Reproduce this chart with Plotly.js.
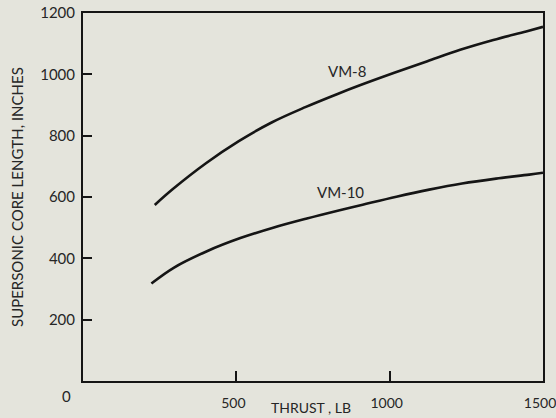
<!DOCTYPE html>
<html>
<head>
<meta charset="utf-8">
<script src="https://cdn.plot.ly/plotly-3.0.1.min.js"></script>
<style>
  html, body { margin: 0; padding: 0; background: #e4e4dc; }
  #chart { width: 556px; height: 418px; }
</style>
</head>
<body>
<div id="chart"></div>
<script>
// Thrust, lb
const vm8Thrust = [234, 292, 401, 508, 615, 725, 830, 905, 1015, 1123, 1230, 1338, 1445, 1500];
// Supersonic core length, inches
const vm8Length = [574, 625, 710, 782, 843, 893, 936, 965, 1005, 1043, 1080, 1112, 1140, 1155];

const vm10Thrust = [223, 297, 406, 513, 620, 730, 837, 912, 1022, 1129, 1236, 1347, 1455, 1500];
const vm10Length = [318, 370, 424, 466, 500, 530, 557, 575, 601, 624, 644, 660, 673, 679];

const xTickVals = [500, 1000, 1500];
const xTickText = ['500', '1000', '1500'];
const yTickVals = [200, 400, 600, 800, 1000, 1200];
const yTickText = ['200', '400', '600', '800', '1000', '1200'];

const seriesNames = ['VM-8', 'VM-10'];

const FONT = 'Lato, "Noto Sans", sans-serif';
const INK = '#151515';
const TXT = '#262626';
const FS = 15;
const FSX = 14;

const traces = [
  {x: vm8Thrust, y: vm8Length, name: seriesNames[0], mode: 'lines',
   line: {color: INK, width: 2.6, shape: 'spline', smoothing: 1}},
  {x: vm10Thrust, y: vm10Length, name: seriesNames[1], mode: 'lines',
   line: {color: INK, width: 2.6, shape: 'spline', smoothing: 1}}
];

const layout = {
  width: 556, height: 418,
  margin: {l: 83, r: 13, t: 13, b: 37},
  paper_bgcolor: '#e4e4dc',
  plot_bgcolor: '#e4e4dc',
  showlegend: false,
  font: {family: FONT, size: FS, color: TXT},
  xaxis: {
    range: [0, 1500], showgrid: false, zeroline: false,
    showline: true, linecolor: INK, linewidth: 2, mirror: true,
    ticks: 'inside', ticklen: 10, tickwidth: 2, tickcolor: INK,
    tickvals: xTickVals, ticktext: xTickText,
    ticklabelstandoff: 8, ticklabelshift: -3, ticklabeloverflow: 'allow',
    tickfont: {family: FONT, size: FSX, color: TXT}
  },
  yaxis: {
    range: [0, 1200], showgrid: false, zeroline: false,
    showline: true, linecolor: INK, linewidth: 2, mirror: true,
    ticks: 'inside', ticklen: 9, tickwidth: 2, tickcolor: INK,
    tickvals: yTickVals, ticktext: yTickText,
    ticklabelstandoff: 3, ticklabeloverflow: 'allow',
    tickfont: {family: FONT, size: FS, color: TXT}
  },
  annotations: [
    {xref: 'x', yref: 'y', x: 0, y: 0, text: '0', showarrow: false,
     xshift: -17, yshift: -15, font: {family: FONT, size: FS, color: TXT}},
    {xref: 'paper', yref: 'paper', x: 0.495, y: 0, yshift: -37, text: 'THRUST , LB',
     showarrow: false, font: {family: FONT, size: FSX, color: TXT}},
    {xref: 'paper', yref: 'paper', x: 0, xshift: -77, y: 0.5, text: 'SUPERSONIC CORE LENGTH, INCHES',
     textangle: -90, showarrow: false, font: {family: FONT, size: FS, color: TXT}},
    {xref: 'x', yref: 'y', x: 860, y: 1010, text: seriesNames[0], showarrow: false,
     font: {family: FONT, size: FS, color: TXT}},
    {xref: 'x', yref: 'y', x: 840, y: 615, text: seriesNames[1], showarrow: false,
     font: {family: FONT, size: FS, color: TXT}}
  ]
};

Plotly.newPlot('chart', traces, layout, {staticPlot: true, displayModeBar: false});
</script>
</body>
</html>
